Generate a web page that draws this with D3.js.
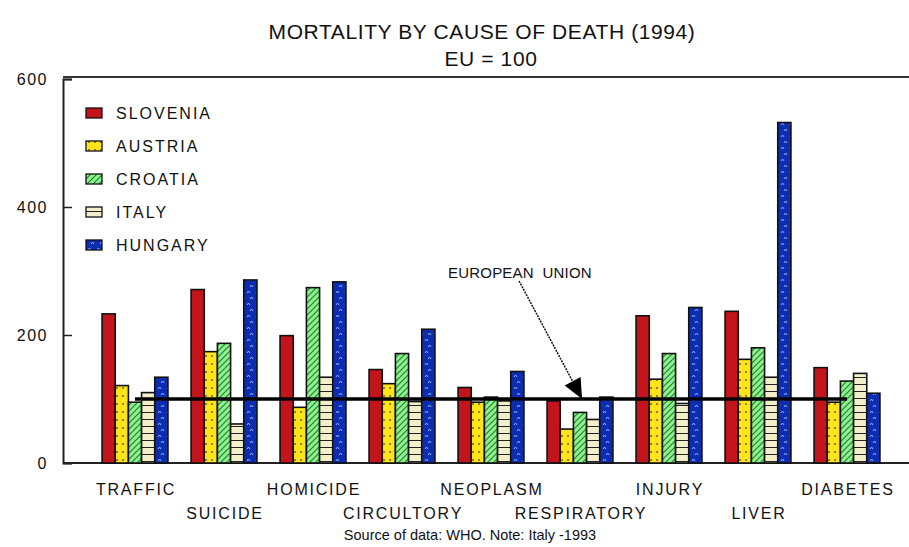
<html>
<head>
	<meta charset="utf-8">
	<style>
		body { margin: 0; background: #fff; }
		svg text { font-family: "Liberation Sans", Arial, Helvetica, sans-serif; fill: #111; }
	</style>
	<script src="https://cdnjs.cloudflare.com/ajax/libs/d3/7.8.5/d3.min.js"></script>
</head>
<body>
	<svg id="chart" width="909" height="547"></svg>
</body>
<script>
let causes = ["TRAFFIC", "SUICIDE", "HOMICIDE", "CIRCULTORY", "NEOPLASM", "RESPIRATORY", "INJURY", "LIVER", "DIABETES"];
let countries = ["SLOVENIA", "AUSTRIA", "CROATIA", "ITALY", "HUNGARY"];

let slovenia = [233, 271, 199, 146, 118, 97, 230, 237, 149];
let austria  = [121, 174, 87, 124, 95, 53, 131, 162, 95];
let croatia  = [95, 187, 274, 171, 103, 79, 171, 180, 128];
let italy    = [110, 61, 134, 96, 97, 68, 93, 134, 140];
let hungary  = [134, 286, 283, 209, 143, 103, 243, 532, 109];

let euLevel = 100;
let yTicks = [0, 200, 400, 600];

let width = 909,
	height = 547;

let svg = d3.select("#chart");

let series = [slovenia, austria, croatia, italy, hungary];

let x = d3.scaleBand().domain(causes).range([90.5, 891.5]).paddingInner(0.26).paddingOuter(0.13);
let xc = d3.scaleBand().domain(countries).range([0, x.bandwidth()]);
let y = d3.scaleLinear().domain([0, 600]).range([463, 79]);

// fill patterns, one per country
let defs = svg.append("defs");

let pAus = defs.append("pattern").attr("id", "p-AUSTRIA").attr("patternUnits", "userSpaceOnUse")
	.attr("width", 6).attr("height", 8);
pAus.append("rect").attr("width", 6).attr("height", 8).attr("fill", "#ffe41a");
pAus.append("circle").attr("cx", 3).attr("cy", 4).attr("r", 0.9).attr("fill", "#5a5030");

let pCro = defs.append("pattern").attr("id", "p-CROATIA").attr("patternUnits", "userSpaceOnUse")
	.attr("width", 6).attr("height", 6);
pCro.append("rect").attr("width", 6).attr("height", 6).attr("fill", "#8ef28e");
pCro.append("path").attr("d", "M0,6 L6,0 M-1,1 L1,-1 M5,7 L7,5")
	.attr("stroke", "#1d7a2a").attr("stroke-width", 1.1);

let pIta = defs.append("pattern").attr("id", "p-ITALY").attr("patternUnits", "userSpaceOnUse")
	.attr("width", 6).attr("height", 7);
pIta.append("rect").attr("width", 6).attr("height", 7).attr("fill", "#f3efcb");
pIta.append("rect").attr("y", 6).attr("width", 6).attr("height", 1.2).attr("fill", "#222");

let pHun = defs.append("pattern").attr("id", "p-HUNGARY").attr("patternUnits", "userSpaceOnUse")
	.attr("width", 9).attr("height", 12);
pHun.append("rect").attr("width", 9).attr("height", 12).attr("fill", "#0c2db2");
pHun.append("path").attr("d", "M2,5 l1.5,-2 l1.5,2 M5,11 l1.5,-2 l1.5,2")
	.attr("stroke", "#a9c4ff").attr("stroke-width", 0.9).attr("fill", "none");

let fillOf = c => c == "SLOVENIA" ? "#c3141c" : `url(#p-${c})`;

// titles
svg.append("text").attr("x", 482).attr("y", 39).attr("text-anchor", "middle")
	.attr("font-size", 21).attr("letter-spacing", 0.6)
	.text("MORTALITY BY CAUSE OF DEATH (1994)");
svg.append("text").attr("x", 491).attr("y", 66).attr("text-anchor", "middle")
	.attr("font-size", 21).attr("letter-spacing", 0.6)
	.text("EU = 100");

// frame lines
svg.append("line").attr("x1", 63).attr("x2", width).attr("y1", 77).attr("y2", 77)
	.attr("stroke", "#333").attr("stroke-width", 2);
svg.append("line").attr("x1", 63).attr("x2", width).attr("y1", y(0)).attr("y2", y(0))
	.attr("stroke", "#222").attr("stroke-width", 2);

let yAxis = svg.append("g").attr("transform", "translate(63,0)")
	.call(d3.axisLeft(y).tickValues(yTicks).tickSize(-9).tickPadding(15));
yAxis.select(".domain").attr("stroke", "#222").attr("stroke-width", 2);
yAxis.selectAll(".tick line").attr("stroke", "#222").attr("stroke-width", 1.5);
yAxis.selectAll(".tick text").attr("font-size", 16).attr("letter-spacing", 1.5)
	.attr("font-family", "Liberation Sans, Arial, sans-serif").attr("fill", "#111");

// bars
let groups = svg.append("g").selectAll("g")
	.data(causes)
	.join("g")
	.attr("transform", d => `translate(${x(d)},0)`);

groups.selectAll("rect")
	.data((d, i) => countries.map((c, k) => ({country: c, value: series[k][i]})))
	.join("rect")
	.attr("x", d => xc(d.country))
	.attr("y", d => y(d.value))
	.attr("width", xc.bandwidth())
	.attr("height", d => y(0) - y(d.value))
	.attr("fill", d => fillOf(d.country))
	.attr("stroke", "#111")
	.attr("stroke-width", 1.6);

// EU reference line
svg.append("line")
	.attr("x1", x(causes[0]) + x.bandwidth() / 2)
	.attr("x2", x(causes[causes.length - 1]) + x.bandwidth() / 2)
	.attr("y1", y(euLevel)).attr("y2", y(euLevel))
	.attr("stroke", "#000").attr("stroke-width", 3.5);

// x labels, staggered on two rows
svg.append("g").selectAll("text")
	.data(causes)
	.join("text")
	.attr("x", d => x(d) + x.bandwidth() / 2 + 1)
	.attr("y", (d, i) => i % 2 == 0 ? 495 : 519)
	.attr("text-anchor", "middle")
	.attr("font-size", 16)
	.attr("letter-spacing", 1.8)
	.text(d => d);

// legend
let legend = svg.append("g").selectAll("g")
	.data(countries)
	.join("g")
	.attr("transform", (d, i) => `translate(86,${113 + i * 33})`);
legend.append("rect").attr("y", -5).attr("width", 16).attr("height", 10)
	.attr("fill", d => fillOf(d)).attr("stroke", "#111").attr("stroke-width", 1.3);
legend.append("text").attr("x", 30).attr("y", 6)
	.attr("font-size", 16).attr("letter-spacing", 2)
	.text(d => d);

// annotation arrow
let tipX = x("RESPIRATORY") + 35,
	tipY = y(euLevel);
let startX = tipX - 63,
	startY = tipY - 118;
let len = Math.hypot(tipX - startX, tipY - startY);
let ux = (tipX - startX) / len,
	uy = (tipY - startY) / len;
let bx = tipX - 20 * ux,
	by = tipY - 20 * uy;

svg.append("line").attr("x1", startX).attr("y1", startY).attr("x2", bx).attr("y2", by)
	.attr("stroke", "#111").attr("stroke-width", 1.5).attr("stroke-dasharray", "2,1");
svg.append("path")
	.attr("d", `M${tipX},${tipY} L${bx - 9 * uy},${by + 9 * ux} L${bx + 9 * uy},${by - 9 * ux} Z`)
	.attr("fill", "#000");
svg.append("text").attr("x", 448).attr("y", 278)
	.attr("font-size", 15).attr("letter-spacing", 0.2)
	.attr("xml:space", "preserve").style("white-space", "pre")
	.text("EUROPEAN  UNION");

// source note
svg.append("text").attr("x", 470).attr("y", 540).attr("text-anchor", "middle")
	.attr("font-size", 14.5)
	.text("Source of data: WHO. Note: Italy -1993");
</script>
</html>
